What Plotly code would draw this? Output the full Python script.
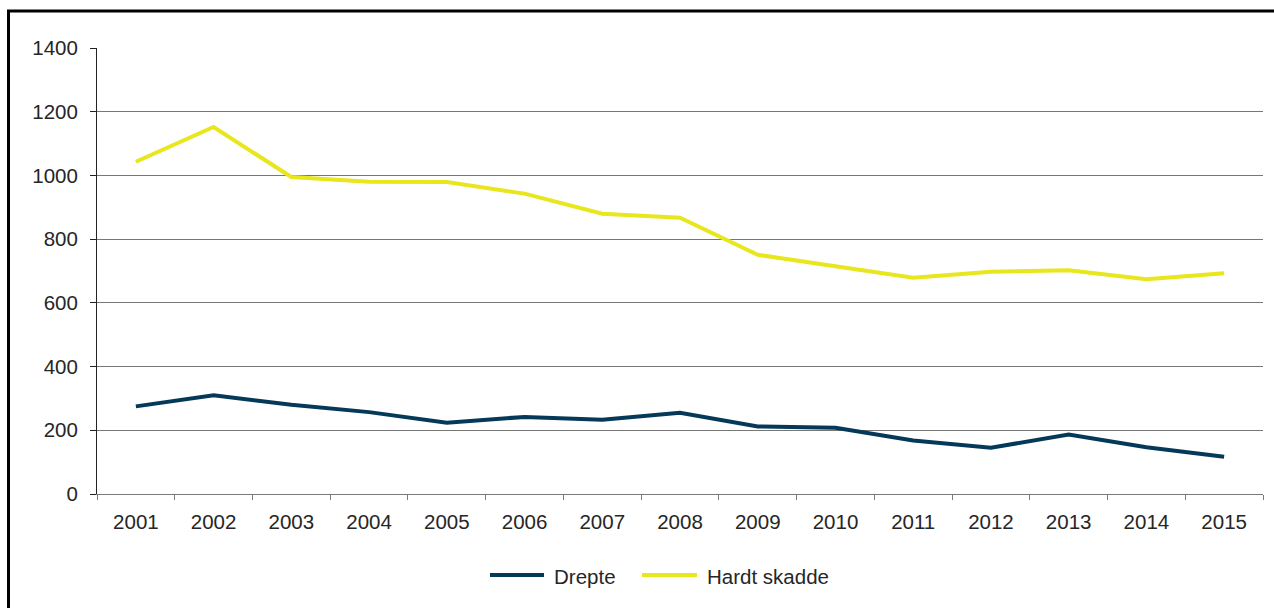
import plotly.graph_objects as go

# Road traffic casualties per year
years = ["2001", "2002", "2003", "2004", "2005", "2006", "2007", "2008",
         "2009", "2010", "2011", "2012", "2013", "2014", "2015"]
drepte = [275, 310, 280, 257, 224, 242, 233, 255, 212, 208, 168, 145, 187, 147, 117]
hardt_skadde = [1043, 1152, 995, 980, 979, 943, 880, 867, 751, 714, 679, 698, 702, 674, 693]
y_ticks = [0, 200, 400, 600, 800, 1000, 1200, 1400]

navy = "#04395a"
yellow = "#e8e61c"
text_col = "#262626"
font_family = "Liberation Sans, Arial, sans-serif"

W, H = 1274, 608
L, R, T, B = 97, 11, 48, 114
pw, ph = W - L - R, H - T - B


def px_x(px):
    return (px - L) / pw


def px_y(py):
    return (H - B - py) / ph


fig = go.Figure()
fig.add_trace(go.Scatter(x=years, y=drepte, mode="lines", name="Drepte",
                         line=dict(color=navy, width=4), showlegend=False))
fig.add_trace(go.Scatter(x=years, y=hardt_skadde, mode="lines", name="Hardt skadde",
                         line=dict(color=yellow, width=4), showlegend=False))

shapes = [
    # outer frame
    dict(type="rect", xref="paper", yref="paper",
         x0=px_x(8.5), x1=px_x(1290), y0=px_y(11), y1=px_y(640),
         line=dict(color="black", width=3), fillcolor="rgba(0,0,0,0)", layer="above"),
]
annotations = []

# legend entries
legend_items = [("Drepte", navy, 490, 544, 552), ("Hardt skadde", yellow, 642, 697, 705)]
for name, col, x0, x1, xt in legend_items:
    shapes.append(dict(type="line", xref="paper", yref="paper",
                       x0=px_x(x0), x1=px_x(x1), y0=px_y(575), y1=px_y(575),
                       line=dict(color=col, width=4)))
    annotations.append(dict(text=name, xref="paper", yref="paper",
                            x=px_x(xt), y=px_y(576), xanchor="left", yanchor="middle",
                            showarrow=False, font=dict(size=20.5, color=text_col, family=font_family)))

fig.update_layout(
    width=W, height=H,
    margin=dict(l=L, r=R, t=T, b=B, pad=0),
    paper_bgcolor="white", plot_bgcolor="white",
    font=dict(family=font_family, size=20.5, color=text_col),
    shapes=shapes, annotations=annotations,
    showlegend=False,
)
fig.update_xaxes(
    type="category", range=[-0.5, len(years) - 0.5],
    showgrid=False, showline=True, linecolor="#7a7a7a", linewidth=1,
    ticks="outside", tickson="boundaries", ticklen=5, tickcolor="#7a7a7a",
    ticklabelstandoff=9,
    tickfont=dict(size=20.5, color=text_col),
)
fig.update_yaxes(
    range=[0, 1400], tickvals=y_ticks,
    showgrid=True, gridcolor="#777777", gridwidth=1,
    zeroline=False,
    showline=True, linecolor="#222222", linewidth=1,
    ticks="outside", ticklen=6, tickcolor="#222222",
    ticklabelstandoff=8,
    tickfont=dict(size=20.5, color=text_col),
)

fig.write_html("out.html")
